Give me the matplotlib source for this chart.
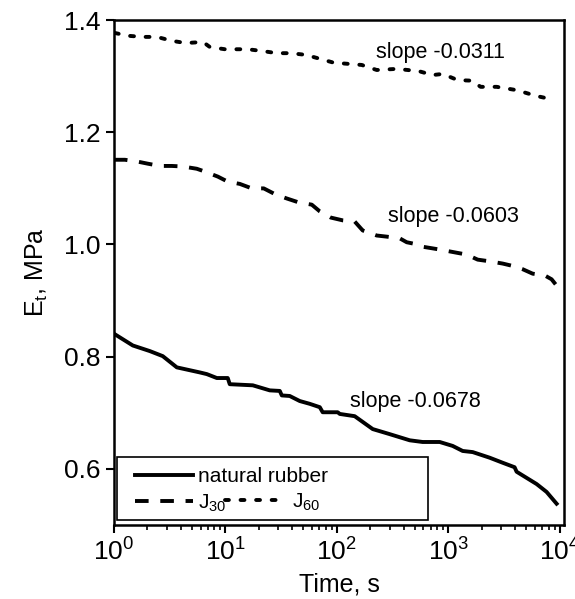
import numpy as np
import matplotlib
matplotlib.use("Agg")
import matplotlib.pyplot as plt
from matplotlib.patches import Rectangle

plt.rcParams['font.family'] = ['Liberation Sans', 'DejaVu Sans']
plt.rcParams['mathtext.fontset'] = 'custom'
plt.rcParams['mathtext.rm'] = 'Liberation Sans'
plt.rcParams['mathtext.default'] = 'regular'

# log10(time in s) and modulus (MPa)
nr_logt = [0.009, 0.17, 0.323, 0.439, 0.565, 0.771, 0.834, 0.924, 1.022, 1.04, 1.247, 1.399,
           1.489, 1.507, 1.578, 1.668, 1.758, 1.848, 1.874, 2.009, 2.027, 2.161, 2.323, 2.475,
           2.655, 2.771, 2.924, 3.04, 3.13, 3.22, 3.372, 3.489, 3.596, 3.614, 3.704, 3.794,
           3.883, 3.973]
nr_E = [0.840, 0.820, 0.810, 0.801, 0.781, 0.772, 0.769, 0.762, 0.762, 0.751, 0.749, 0.740,
        0.739, 0.731, 0.730, 0.721, 0.716, 0.710, 0.701, 0.701, 0.698, 0.694, 0.671, 0.662,
        0.651, 0.648, 0.648, 0.641, 0.632, 0.630, 0.620, 0.611, 0.603, 0.595, 0.584, 0.573,
        0.559, 0.538]

j30_logt = [0.0, 0.099, 0.206, 0.305, 0.413, 0.52, 0.619, 0.744, 0.816, 0.933, 1.022, 1.13,
            1.238, 1.345, 1.453, 1.552, 1.659, 1.776, 1.848, 1.946, 2.054, 2.161, 2.233, 2.359,
            2.448, 2.565, 2.628, 2.726, 2.771, 2.924, 3.058, 3.166, 3.265, 3.372, 3.489, 3.596,
            3.668, 3.758, 3.865, 3.928, 3.964]
j30_E = [1.151, 1.151, 1.148, 1.144, 1.140, 1.140, 1.139, 1.135, 1.130, 1.121, 1.112, 1.108,
         1.100, 1.100, 1.089, 1.082, 1.075, 1.071, 1.059, 1.048, 1.043, 1.041, 1.025, 1.016,
         1.014, 1.011, 1.004, 1.000, 0.996, 0.991, 0.986, 0.982, 0.973, 0.970, 0.966, 0.961,
         0.956, 0.948, 0.945, 0.938, 0.929]

j60_logt = [0.009, 0.126, 0.26, 0.386, 0.52, 0.646, 0.80, 0.861, 0.996, 1.20, 1.327, 1.462,
            1.587, 1.722, 1.848, 1.973, 2.10, 2.224, 2.359, 2.538, 2.735, 2.861, 2.951, 3.085,
            3.211, 3.291, 3.435, 3.587, 3.668, 3.785, 3.90]
j60_E = [1.377, 1.372, 1.370, 1.370, 1.363, 1.359, 1.361, 1.352, 1.348, 1.348, 1.345, 1.341,
         1.341, 1.338, 1.331, 1.324, 1.322, 1.320, 1.311, 1.313, 1.309, 1.302, 1.304, 1.293,
         1.292, 1.281, 1.281, 1.276, 1.272, 1.265, 1.260]

slope_texts = ["slope -0.0311", "slope -0.0603", "slope -0.0678"]
slope_logt = [2.933, 3.05, 2.709]
slope_E = [1.343, 1.050, 0.721]

fig = plt.figure(figsize=(5.75, 5.99), dpi=100)
ax = fig.add_axes([0.198, 0.1235, 0.783, 0.843])

h_nr, = ax.plot(10 ** np.array(nr_logt), nr_E, color='black', lw=2.8, solid_joinstyle='round')
h_j30, = ax.plot(10 ** np.array(j30_logt), j30_E, color='black', lw=2.8, dashes=(3.5, 3))
h_j60, = ax.plot(10 ** np.array(j60_logt), j60_E, color='black', lw=2.8, dashes=(1, 3),
                 dash_capstyle='round')

for s, lx, ey in zip(slope_texts, slope_logt, slope_E):
    ax.text(10 ** lx, ey, s, fontsize=15.5, ha='center', va='center')

ax.set_xscale('log')
ax.set_xlim(1, 10 ** 4.04)
ax.set_ylim(0.5, 1.4)
ax.set_yticks([0.6, 0.8, 1.0, 1.2, 1.4])
ax.set_yticklabels(['0.6', '0.8', '1.0', '1.2', '1.4'])
ax.tick_params(axis='both', which='major', direction='out', length=6, width=1.5, labelsize=19)
ax.tick_params(axis='x', which='minor', direction='out', length=3.5, width=1.2)
for sp in ax.spines.values():
    sp.set_linewidth(1.8)

ax.set_xlabel("Time, s", fontsize=18, labelpad=5)
ax.set_ylabel("E$_t$, MPa", fontsize=18, labelpad=10)

# legend: box drawn separately, two frameless legends inside it
ax.add_patch(Rectangle((0.007, 0.01), 0.691, 0.125, transform=ax.transAxes, fill=False,
                       edgecolor='black', lw=1.2, zorder=5))
leg1 = ax.legend([h_nr, h_j30], ['natural rubber', '$J_{30}$'], loc='upper left',
                 bbox_to_anchor=(0.047, 0.114), fontsize=15, handlelength=2.8,
                 handletextpad=0.2, borderpad=0, labelspacing=0.3, borderaxespad=0,
                 frameon=False)
ax.add_artist(leg1)
ax.legend([h_j60], ['$J_{60}$'], loc='upper left', bbox_to_anchor=(0.247, 0.0665),
          fontsize=15, handlelength=2.7, handletextpad=0.5, borderpad=0,
          borderaxespad=0, frameon=False)

plt.savefig('out.png', dpi=100)
